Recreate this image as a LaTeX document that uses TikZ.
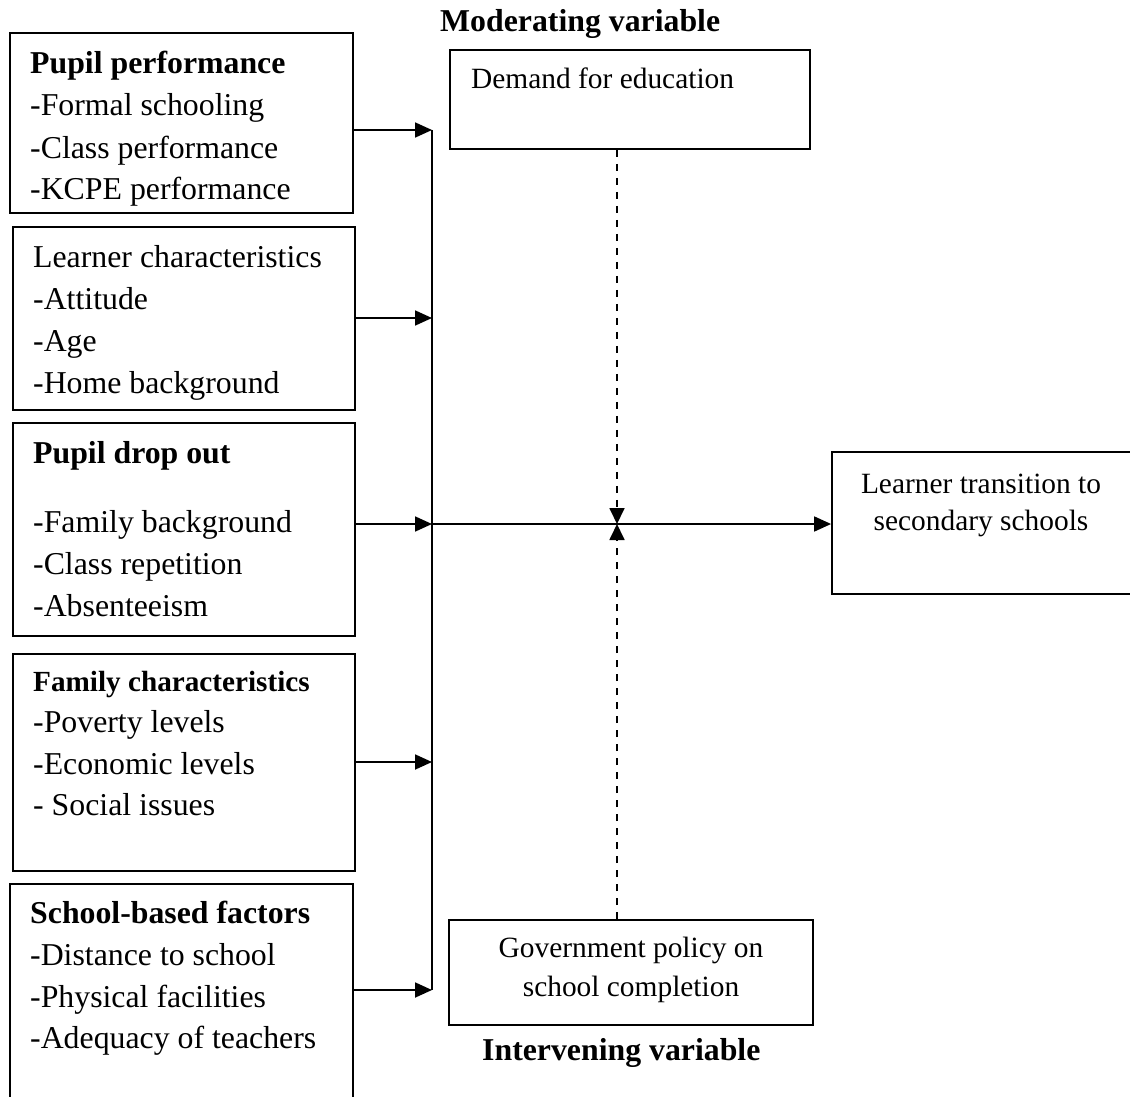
\documentclass[tikz,border=0pt]{standalone}
\usepackage{fontspec}
\setmainfont{Liberation Serif}
\usetikzlibrary{arrows.meta}
\tikzset{
  boxn/.style={draw, line width=1.8pt, inner sep=0pt, rectangle},
  txt/.style={anchor=base west, inner sep=0pt, font=\fontsize{31.8}{42}\selectfont},
  btxt/.style={anchor=base west, inner sep=0pt, font=\fontsize{31.8}{42}\selectfont\bfseries},
  stxt/.style={anchor=base, inner sep=0pt, font=\fontsize{29.4}{39}\selectfont},
  sbtxt/.style={anchor=base west, inner sep=0pt, font=\fontsize{29.2}{39}\selectfont\bfseries},
  arr/.style={line width=1.8pt, -{Triangle[length=17pt,width=15pt]}},
  darr/.style={line width=1.8pt, dash pattern=on 7pt off 7pt, -{Triangle[length=16pt,width=15pt]}},
}
\begin{document}
\begin{tikzpicture}[x=1pt,y=-1pt]
\useasboundingbox (0,0) rectangle (1130,1097);
% boxes
\node[boxn, minimum width=343pt, minimum height=180pt] (b1) at (181.5,123) {};
\node[boxn, minimum width=342pt, minimum height=183pt] (b2) at (184,318.5) {};
\node[boxn, minimum width=342pt, minimum height=213pt] (b3) at (184,529.5) {};
\node[boxn, minimum width=342pt, minimum height=217pt] (b4) at (184,762.5) {};
\node[boxn, minimum width=343pt, minimum height=226pt] (b5) at (181.5,997) {};
\node[boxn, minimum width=360pt, minimum height=99pt] (dem) at (630,99.5) {};
\node[boxn, minimum width=364pt, minimum height=105pt] (gov) at (631,972.5) {};
\node[boxn, minimum width=303pt, minimum height=142pt] (out) at (983.5,523) {};
% box 1
\node[btxt] (t1a) at (30,74) {Pupil performance};
\node[txt] (t1b) at (30,116) {-Formal schooling};
\node[txt] (t1c) at (30,158) {-Class performance};
\node[txt] (t1d) at (30,199) {-KCPE performance};
% box 2
\node[txt] (t2a) at (33,267) {Learner characteristics};
\node[txt] (t2b) at (33,309) {-Attitude};
\node[txt] (t2c) at (33,351) {-Age};
\node[txt] (t2d) at (33,393) {-Home background};
% box 3
\node[btxt] (t3a) at (33,463) {Pupil drop out};
\node[txt] (t3b) at (33,532) {-Family background};
\node[txt] (t3c) at (33,574) {-Class repetition};
\node[txt] (t3d) at (33,616) {-Absenteeism};
% box 4
\node[sbtxt] (t4a) at (33,691) {Family characteristics};
\node[txt] (t4b) at (33,732) {-Poverty levels};
\node[txt] (t4c) at (33,774) {-Economic levels};
\node[txt] (t4d) at (33,815) {- Social issues};
% box 5
\node[btxt] (t5a) at (30,923) {School-based factors};
\node[txt] (t5b) at (30,965) {-Distance to school};
\node[txt] (t5c) at (30,1007) {-Physical facilities};
\node[txt] (t5d) at (30,1048) {-Adequacy of teachers};
% middle / right
\node[btxt] (mod) at (440,32) {Moderating variable};
\node[stxt, anchor=base west] (tdem) at (471,89) {Demand for education};
\node[stxt] (tout1) at (981,493) {Learner transition to};
\node[stxt] (tout2) at (981,530) {secondary schools};
\node[stxt] (tgov1) at (631,957) {Government policy on};
\node[stxt] (tgov2) at (631,996) {school completion};
\node[btxt] (int) at (482,1060) {Intervening variable};
% junctions
\coordinate (j1) at (432,130);
\coordinate (j2) at (432,318);
\coordinate (j3) at (432,524);
\coordinate (j4) at (432,762);
\coordinate (j5) at (432,990);
\coordinate (m) at (617,524);
% connectors
\draw[line width=1.5pt] (j1) -- (j5);
\draw[arr] (b1.east |- j1) -- (j1);
\draw[arr] (b2.east |- j2) -- (j2);
\draw[arr] (b3.east |- j3) -- (j3);
\draw[arr] (b4.east |- j4) -- (j4);
\draw[arr] (b5.east |- j5) -- (j5);
\draw[arr] (j3) -- (out.west |- j3);
\draw[darr] (m |- dem.south) -- (m);
\draw[darr] (m |- gov.north) -- (m);
\end{tikzpicture}
\end{document}
